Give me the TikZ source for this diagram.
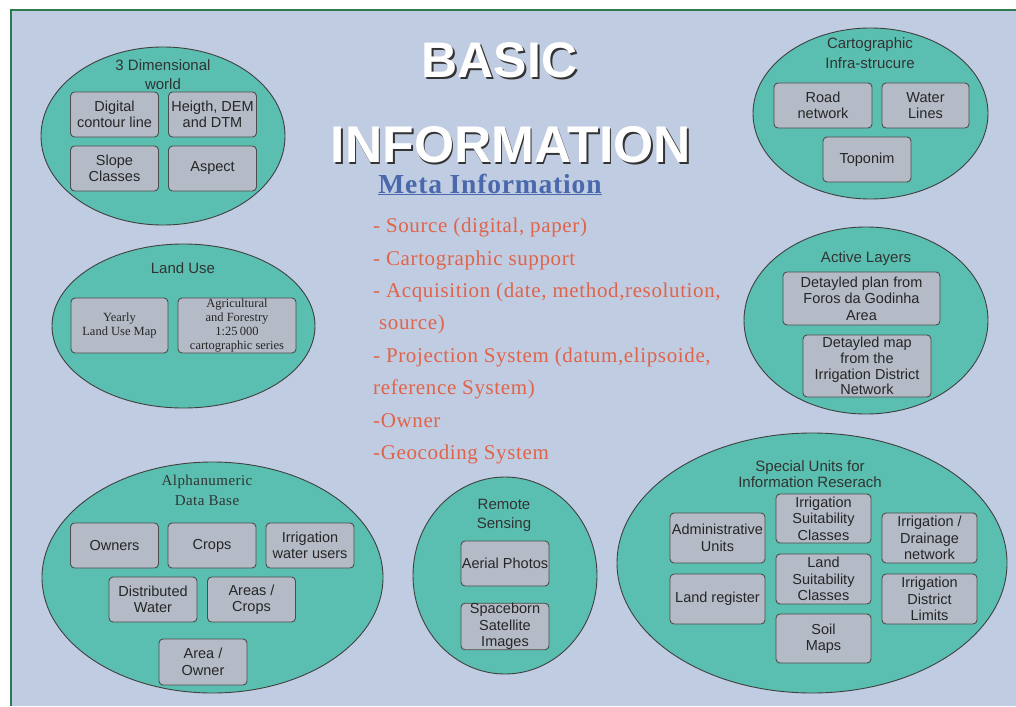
\documentclass[tikz,border=0pt]{standalone}
\usepackage{fontspec}
\setmainfont{Liberation Serif}
\newfontfamily\sansfont{Liberation Sans}
\newfontfamily\spacedserif[LetterSpace=3]{Liberation Serif}
\usepackage{tikz}
\usetikzlibrary{shapes.geometric}

\definecolor{pagebg}{HTML}{C0CCE2}
\definecolor{framegreen}{HTML}{2E7A4E}
\definecolor{areateal}{HTML}{5ABFB0}
\definecolor{boxgray}{HTML}{B4BAC6}
\definecolor{metablue}{HTML}{4A68AC}
\definecolor{metared}{HTML}{E0644A}

\tikzset{
	area/.style={ellipse, draw=black!75, fill=areateal, line width=0.9pt, inner sep=0pt},
	areatitle/.style={align=center, inner sep=0pt, text=black!80, font=\sansfont\fontsize{15}{19}\selectfont},
	layer/.style={rectangle, rounded corners=4pt, draw=black!70, fill=boxgray, line width=0.9pt,
		minimum width=88pt, minimum height=45pt, inner sep=0pt, align=center, text=black!85,
		font=\sansfont\fontsize{14.5}{16.5}\selectfont},
	seriflayer/.style={layer, font=\fontsize{12.5}{14.2}\selectfont},
	bigtitle/.style={anchor=base, inner sep=0pt, font=\sansfont\bfseries\fontsize{#1}{#1}\selectfont}
}

\begin{document}
\begin{tikzpicture}[x=1pt, y=-1pt]

		\useasboundingbox (0,0) rectangle (1016,706);
		\fill[white] (0,0) rectangle (1016,706);
		\fill[pagebg] (12,11) rectangle (1016,706);
		\draw[framegreen, line width=2.5pt] (11,706) -- (11,10) -- (1016,10);

		\node[bigtitle=50, text=black!80] (basicshadow) at (501.5,79.5) {BASIC};
		\node[bigtitle=50, text=white] (basic) at (499.5,78) {BASIC};
		\node[bigtitle=51.6, text=black!80] (infoshadow) at (512.5,164) {INFORMATION};
		\node[bigtitle=51.6, text=white] (info) at (511,162.5) {INFORMATION};

		\node[anchor=base, inner sep=0pt, text=metablue, font=\spacedserif\bfseries\fontsize{27.5}{27.5}\selectfont] (meta) at (490,193) {\underline{Meta Information}};
		\node[anchor=north west, align=left, inner sep=0pt, text=metared, font=\spacedserif\fontsize{21}{32.4}\selectfont] (metalist) at (373,218)
		{- Source (digital, paper)\\- Cartographic support\\- Acquisition (date, method,resolution,\\\hspace*{6pt}source)\\- Projection System (datum,elipsoide,\\reference System)\\-Owner\\-Geocoding System};

		\node[area, minimum width=244pt, minimum height=178pt] (world) at (163,136) {};
		\node[areatitle] (worldtitle) at (163,75) {3 Dimensional\\world};
		\node[layer] (contour) at (114.5,114.5) {Digital\\contour line};
		\node[layer] (dem) at (212.5,114.5) {Heigth, DEM\\and DTM};
		\node[layer] (slope) at (114.5,168.5) {Slope\\Classes};
		\node[layer] (aspect) at (212.5,168.5) {Aspect};

		\node[area, minimum width=263pt, minimum height=164pt] (landuse) at (183.5,326) {};
		\node[areatitle] (landusetitle) at (183,268) {Land Use};
		\node[seriflayer, minimum width=97pt, minimum height=55pt] (yearly) at (119.5,325.5) {Yearly\\Land Use Map};
		\node[seriflayer, minimum width=118pt, minimum height=55pt] (agri) at (237,325.5) {Agricultural\\and Forestry\\1:25\,000\\cartographic series};

		\node[area, minimum width=341pt, minimum height=231pt] (alpha) at (212.5,577.5) {};
		\node[areatitle, font=\spacedserif\fontsize{15}{20}\selectfont] (alphatitle) at (207,490) {Alphanumeric\\Data Base};
		\node[layer] (owners) at (114.5,545.5) {Owners};
		\node[layer] (crops) at (212,545.5) {Crops};
		\node[layer] (users) at (310,545.5) {Irrigation\\water users};
		\node[layer] (water) at (153,599.5) {Distributed\\Water};
		\node[layer] (areacrops) at (251.5,599.5) {Areas /\\Crops};
		\node[layer, minimum height=46pt] (areaowner) at (203,662) {Area /\\Owner};

		\node[area, minimum width=184pt, minimum height=197pt] (remote) at (505,575.5) {};
		\node[areatitle] (remotetitle) at (504,515) {Remote\\Sensing};
		\node[layer] (aerial) at (505,563.5) {Aerial Photos};
		\node[layer] (satellite) at (505,626.5) {Spaceborn\\Satellite\\Images};

		\node[area, minimum width=390pt, minimum height=260pt] (special) at (812,563) {};
		\node[areatitle, font=\sansfont\fontsize{15}{16.5}\selectfont] (specialtitle) at (810,474) {Special Units for\\Information Reserach};
		\node[layer, minimum width=95pt, minimum height=50pt] (admin) at (717.5,538) {Administrative\\Units};
		\node[layer, minimum width=95pt, minimum height=50pt] (register) at (717.5,599) {Land register};
		\node[layer, minimum width=95pt, minimum height=49pt] (irrsuit) at (823.5,518.5) {Irrigation\\Suitability\\Classes};
		\node[layer, minimum width=95pt, minimum height=50pt] (landsuit) at (823.5,579) {Land\\Suitability\\Classes};
		\node[layer, minimum width=95pt, minimum height=49pt] (soil) at (823.5,638.5) {Soil\\Maps};
		\node[layer, minimum width=95pt, minimum height=50pt] (drainage) at (929.5,538) {Irrigation /\\Drainage\\network};
		\node[layer, minimum width=95pt, minimum height=50pt] (limits) at (929.5,599) {Irrigation\\District\\Limits};

		\node[area, minimum width=244pt, minimum height=187pt] (active) at (866,320.5) {};
		\node[areatitle] (activetitle) at (866,259) {Active Layers};
		\node[layer, minimum width=157pt, minimum height=53pt] (plan) at (861.5,298.5) {Detayled plan from\\Foros da Godinha\\Area};
		\node[layer, minimum width=128pt, minimum height=62pt, font=\sansfont\fontsize{14.5}{15.7}\selectfont] (map) at (867,366) {Detayled map\\from the\\Irrigation District\\Network};

		\node[area, minimum width=235pt, minimum height=171pt] (carto) at (870.5,113.5) {};
		\node[areatitle, font=\sansfont\fontsize{15}{20}\selectfont] (cartotitle) at (870,53) {Cartographic\\Infra-strucure};
		\node[layer, minimum width=98pt] (road) at (823,105.5) {Road\\network};
		\node[layer, minimum width=87pt] (waterlines) at (925.5,105.5) {Water\\Lines};
		\node[layer] (toponim) at (867,159.5) {Toponim};

\end{tikzpicture}
\end{document}
